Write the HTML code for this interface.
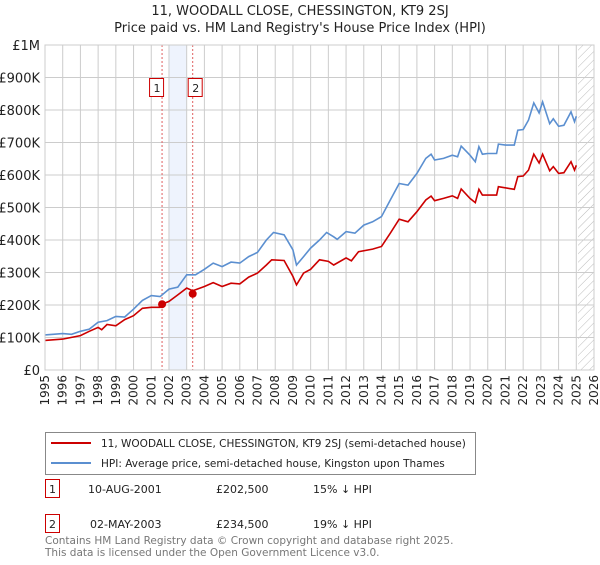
<!DOCTYPE html>
<html><head><meta charset="utf-8"><style>
body{margin:0;background:#fff;font-family:"Liberation Sans","DejaVu Sans",sans-serif;}
svg text{font-family:"DejaVu Sans","Liberation Sans",sans-serif;}
</style></head><body>
<svg id="c" width="600" height="560" xmlns="http://www.w3.org/2000/svg">
<text x="300" y="15" text-anchor="middle" font-size="13" fill="#222">11, WOODALL CLOSE, CHESSINGTON, KT9 2SJ</text>
<text x="300" y="32" text-anchor="middle" font-size="13" fill="#222">Price paid vs. HM Land Registry's House Price Index (HPI)</text>
<g id="grid"></g><g id="marks"></g><g id="axes"></g>
<g>
<rect x="45.5" y="432.5" width="430" height="42" fill="#fff" stroke="#888"/>
<line x1="51" y1="443" x2="91" y2="443" stroke="#cc0000" stroke-width="2"/>
<text x="101" y="447" font-size="10.5" fill="#222">11, WOODALL CLOSE, CHESSINGTON, KT9 2SJ (semi-detached house)</text>
<line x1="51" y1="463" x2="91" y2="463" stroke="#5b8fd0" stroke-width="2"/>
<text x="101" y="467" font-size="10.5" fill="#222">HPI: Average price, semi-detached house, Kingston upon Thames</text>
</g>
<g font-size="11" fill="#222">
<rect x="45.5" y="479.5" width="14" height="18" fill="#fff" stroke="#cc0000"/><text x="52.5" y="493" text-anchor="middle">1</text>
<text x="88" y="493">10-AUG-2001</text><text x="216" y="493">£202,500</text><text x="313" y="493">15% ↓ HPI</text>
<rect x="45.5" y="514.5" width="14" height="18" fill="#fff" stroke="#cc0000"/><text x="52.5" y="528" text-anchor="middle">2</text>
<text x="90" y="528">02-MAY-2003</text><text x="216" y="528">£234,500</text><text x="313" y="528">19% ↓ HPI</text>
</g>
<text x="45" y="544" font-size="10.5" fill="#777">Contains HM Land Registry data © Crown copyright and database right 2025.</text>
<text x="45" y="556" font-size="10.5" fill="#777">This data is licensed under the Open Government Licence v3.0.</text>
</svg>
<script>
const hpiYears=[1995,1996,1996.5,1997,1997.5,1998,1998.5,1999,1999.5,2000,2000.5,2001,2001.5,2002,2002.5,2003,2003.5,2004,2004.5,2005,2005.5,2006,2006.5,2007,2007.5,2007.9,2008.5,2009,2009.2,2009.6,2010,2010.5,2010.9,2011.3,2011.5,2012,2012.5,2013,2013.5,2014,2014.5,2015,2015.5,2016,2016.5,2016.8,2017,2017.5,2018,2018.3,2018.5,2019,2019.3,2019.5,2019.7,2020,2020.5,2020.6,2021,2021.5,2021.7,2022,2022.3,2022.6,2022.9,2023.1,2023.5,2023.7,2024,2024.3,2024.7,2024.9,2025];
const hpiValues=[108,112,110,119,126,147,152,165,163,187,214,229,226,249,255,293,293,310,329,318,332,329,349,362,400,423,416,370,323,349,375,400,423,410,402,426,421,446,456,472,523,574,569,605,651,664,646,651,661,656,689,661,641,687,664,666,666,695,692,692,738,740,769,822,791,825,758,773,750,753,794,764,781];
const ppYears=[1995,1996,1997,1997.5,1998,1998.2,1998.5,1999,1999.5,2000,2000.5,2001,2001.5,2001.61,2002,2002.5,2003,2003.34,2003.5,2004,2004.5,2005,2005.5,2006,2006.5,2007,2007.5,2007.8,2008.5,2009,2009.2,2009.6,2010,2010.5,2011,2011.3,2012,2012.3,2012.7,2013.5,2014,2014.5,2015,2015.5,2016,2016.5,2016.8,2017,2017.5,2018,2018.3,2018.5,2019,2019.3,2019.5,2019.7,2020.5,2020.6,2021.5,2021.7,2022,2022.3,2022.6,2022.9,2023.1,2023.5,2023.7,2024,2024.3,2024.7,2024.9,2025];
const ppValues=[91,95,106,119,131,124,140,136,155,167,190,193,193,202.5,211,231,252,244,247,257,269,257,267,265,286,298,323,339,337,288,262,298,310,339,334,323,345,336,364,372,380,421,464,456,487,523,535,521,528,536,528,557,528,515,556,538,538,564,556,595,597,615,664,637,664,613,626,605,607,641,615,630];
const saleYears=[2001.61,2003.34];
const saleValues=[202.5,234.5];
const saleLabels=["1","2"];
const yTicks=[0,100,200,300,400,500,600,700,800,900,1000];
const yTickLabels=["£0","£100K","£200K","£300K","£400K","£500K","£600K","£700K","£800K","£900K","£1M"];
const xTicks=[];for(let y=1995;y<=2026;y++)xTicks.push(y);

const X0=45,X1=594,Y0=370,Y1=45;
const xs=y=>X0+(y-1995)/(2026-1995)*(X1-X0);
const ys=v=>Y0-v/1000*(Y0-Y1);
const NS="http://www.w3.org/2000/svg";
function mk(tag,attrs,parent){const e=document.createElementNS(NS,tag);for(const k in attrs)e.setAttribute(k,attrs[k]);parent.appendChild(e);return e;}
const grid=document.getElementById('grid'),marks=document.getElementById('marks'),axes=document.getElementById('axes');
const defs=mk('defs',{},grid);
const pat=mk('pattern',{id:'h',width:6,height:6,patternUnits:'userSpaceOnUse',patternTransform:'rotate(45)'},defs);
mk('line',{x1:0,y1:0,x2:0,y2:6,stroke:'#bbb','stroke-width':1},pat);
const bg=mk('rect',{x:X0,y:Y1,width:X1-X0,height:Y0-Y1,fill:'#fff'},grid);

const sh=mk('rect',{x:xs(2002),y:Y1,width:xs(2003)-xs(2002),height:Y0-Y1,fill:'#eef3fd'},grid);

const ht=mk('rect',{x:xs(2025.1),y:Y1,width:X1-xs(2025.1),height:Y0-Y1,fill:'url(#h)'},grid);

xTicks.forEach(t=>{mk('line',{x1:xs(t),y1:Y1,x2:xs(t),y2:Y0,stroke:'#ccc','stroke-width':1},grid);});
yTicks.forEach((t,i)=>{mk('line',{x1:X0,y1:ys(t),x2:X1,y2:ys(t),stroke:'#ccc','stroke-width':1},grid);
 const tx=mk('text',{x:40,y:ys(t)+5,'text-anchor':'end','font-size':13,fill:'#222'},axes);tx.textContent=yTickLabels[i];
 });
xTicks.forEach(t=>{const tx=mk('text',{x:0,y:0,'font-size':12,fill:'#222','text-anchor':'end',transform:`translate(${xs(t)+4},${375}) rotate(-90)`},axes);tx.textContent=t;
 });
saleYears.forEach((s,i)=>{const l=mk('line',{x1:xs(s),y1:Y1,x2:xs(s),y2:Y0,stroke:'#e06060','stroke-width':1,'stroke-dasharray':'2,2'},marks);
 });
function path(xa,va,color,name){const d=xa.map((y,i)=>(i?'L':'M')+xs(y).toFixed(1)+','+ys(va[i]).toFixed(1)).join('');
 const p=mk('path',{d:d,fill:'none',stroke:color,'stroke-width':1.6},marks);}
path(hpiYears,hpiValues,'#5b8fd0','hpi-line');
path(ppYears,ppValues,'#cc0000','price-paid-line');
saleYears.forEach((s,i)=>{const c=mk('circle',{cx:xs(s),cy:ys(saleValues[i]),r:4,fill:'#cc0000'},marks);
 
 const r=mk('rect',{x:xs(s)+[-12,-4][i]-0.5,y:78.5,width:14,height:18,fill:'#fff',stroke:'#cc0000'},marks);
 
 const t=mk('text',{x:xs(s)+[-5,3][i],y:92,'text-anchor':'middle','font-size':11,fill:'#222'},marks);t.textContent=saleLabels[i];
 });
mk('rect',{x:X0,y:Y1,width:X1-X0,height:Y0-Y1,fill:'none',stroke:'#ccc'},axes);
</script>
</body></html>
